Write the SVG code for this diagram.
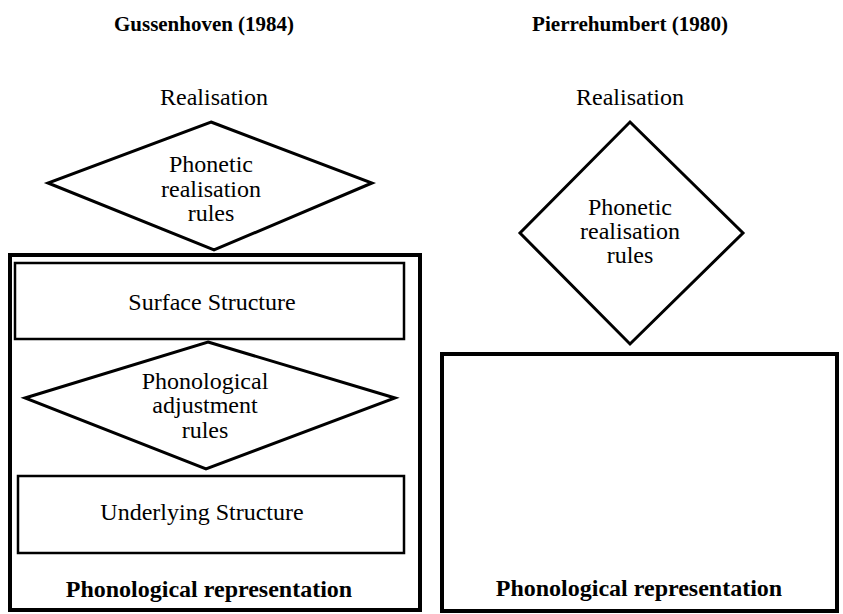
<svg xmlns="http://www.w3.org/2000/svg" width="843" height="614" viewBox="0 0 843 614">
  <style>
    text { font-family: "Liberation Serif", "Times New Roman", serif; fill: #000; text-anchor: middle; }
    .title { font-size: 22px; font-weight: bold; }
    .lbl { font-size: 24px; }
    .rep { font-size: 24px; font-weight: bold; }
    .thick { fill: none; stroke: #000; stroke-width: 4; }
    .thin { fill: none; stroke: #000; stroke-width: 2.5; }
    .dia { fill: #fff; stroke: #000; stroke-width: 3; stroke-linejoin: miter; }
  </style>
  <rect width="843" height="614" fill="#fff"/>

  <!-- Gussenhoven (1984) model -->
  <g id="gussenhoven">
    <text class="title" x="204" y="31" textLength="180" lengthAdjust="spacingAndGlyphs">Gussenhoven (1984)</text>
    <text class="lbl" x="214" y="105">Realisation</text>

    <g id="g-outer">
      <rect class="thick" x="10" y="255" width="410" height="355"/>
      <text class="rep" x="209" y="597">Phonological representation</text>
    </g>

    <g id="g-surface">
      <rect class="thin" x="15" y="263" width="389" height="76"/>
      <text class="lbl" x="212" y="310">Surface Structure</text>
    </g>

    <g id="g-underlying">
      <rect class="thin" x="18" y="476" width="386" height="77"/>
      <text class="lbl" x="202" y="520">Underlying Structure</text>
    </g>

    <g id="g-phonetic">
      <polygon class="dia" points="211,122 372,183 214,250 48,183"/>
      <text class="lbl" x="211" y="172">Phonetic</text>
      <text class="lbl" x="211" y="197">realisation</text>
      <text class="lbl" x="211" y="221">rules</text>
    </g>

    <g id="g-adjustment">
      <polygon class="dia" points="208,342 395,398 206,469 25,398"/>
      <text class="lbl" x="205" y="389">Phonological</text>
      <text class="lbl" x="205" y="413">adjustment</text>
      <text class="lbl" x="205" y="438">rules</text>
    </g>
  </g>

  <!-- Pierrehumbert (1980) model -->
  <g id="pierrehumbert">
    <text class="title" x="630" y="31" textLength="196" lengthAdjust="spacingAndGlyphs">Pierrehumbert (1980)</text>
    <text class="lbl" x="630" y="105">Realisation</text>

    <g id="p-outer">
      <rect class="thick" x="442" y="354" width="395" height="257"/>
      <text class="rep" x="639" y="596">Phonological representation</text>
    </g>

    <g id="p-phonetic">
      <polygon class="dia" points="630,122 743,233 630,344 520,233"/>
      <text class="lbl" x="630" y="215">Phonetic</text>
      <text class="lbl" x="630" y="239">realisation</text>
      <text class="lbl" x="630" y="263">rules</text>
    </g>
  </g>

  <!-- no separate connectors: shapes abut directly -->
  <g id="connectors"/>
</svg>
